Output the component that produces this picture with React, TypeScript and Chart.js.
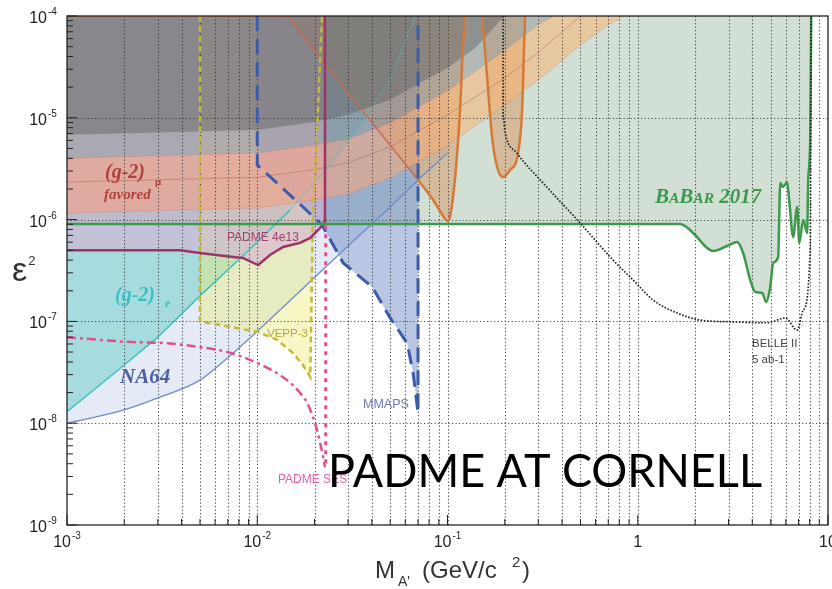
import React, { useEffect, useRef } from 'react';
import { Chart, registerables } from 'chart.js';

Chart.register(...registerables);

// ---------- axis ticks ----------
const xDecades = [1e-3, 1e-2, 1e-1, 1, 10];
const yDecades = [1e-9, 1e-8, 1e-7, 1e-6, 1e-5, 1e-4];
const minorMantissas = [2, 3, 4, 5, 6, 7, 8, 9];
const xTickLabels = [['10', '-3'], ['10', '-2'], ['10', '-1'], ['1', ''], ['10', '']];
const yTickLabels = [['10', '-9'], ['10', '-8'], ['10', '-7'], ['10', '-6'], ['10', '-5'], ['10', '-4']];

// ---------- NA64 ----------
const na64X = [1e-3, 2e-3, 3e-3, 5e-3, 7e-3, 1e-2, 0.02, 0.03, 0.05, 0.07, 0.1];
const na64Y = [1e-8, 1.35e-8, 1.77e-8, 2.65e-8, 4.4e-8, 8e-8, 2.7e-7, 5.5e-7, 1.33e-6, 2.45e-6, 4.5e-6];

// ---------- (g-2)e ----------
const g2eX = [1e-3, 2e-3, 3e-3, 5e-3, 8.6e-3, 0.01487, 0.0242, 0.0347, 0.0499, 0.0676];
const g2eY = [1.3e-8, 3.73e-8, 7.0e-8, 1.78e-7, 4.6e-7, 1.24e-6, 3.44e-6, 8.5e-6, 2.35e-5, 1e-4];

// ---------- BaBar 2017 ----------
const babarX = [1e-3, 1.67, 1.956, 2.317, 2.49, 2.95, 3.33, 3.58, 3.9, 4.14, 4.51, 4.73, 4.97, 5.15, 5.47, 5.61, 5.81, 6.1, 6.25, 6.56, 6.89, 7.06, 7.41, 7.77, 7.87, 8.06, 8.16];
const babarY = [9.06e-7, 9.06e-7, 7.39e-7, 5.26e-7, 4.92e-7, 5.5e-7, 6.03e-7, 4.7e-7, 2.55e-7, 1.95e-7, 1.9e-7, 1.55e-7, 2.18e-7, 3.75e-7, 4.3e-7, 2.29e-6, 2.09e-6, 2.34e-6, 1.56e-6, 6.75e-7, 1.33e-6, 5.9e-7, 9.9e-7, 7.4e-7, 2.45e-6, 6.05e-6, 1e-4];

// ---------- Belle II 5 ab-1 ----------
const belleX = [0.196, 0.196, 0.201, 0.232, 0.318, 0.498, 0.742, 0.946, 1.205, 1.61, 2.13, 3.17, 4.79, 5.96, 6.89, 7.41, 8.06, 8.16];
const belleY = [1e-4, 1.02e-5, 7.1e-6, 4.5e-6, 2.29e-6, 9.26e-7, 4.0e-7, 2.55e-7, 1.62e-7, 1.21e-7, 1.03e-7, 9.9e-8, 9.7e-8, 1.08e-7, 8.2e-8, 1.29e-7, 5.0e-7, 1e-4];

// ---------- VEPP-3 ----------
const veppX = [5e-3, 5e-3, 0.01, 0.0127, 0.0154, 0.0174, 0.019, 0.0196, 0.0206, 0.0219];
const veppY = [1e-4, 1e-7, 7.9e-8, 6.6e-8, 4.9e-8, 3.73e-8, 2.84e-8, 1.06e-6, 7.1e-6, 1e-4];

// ---------- MMAPS ----------
const mmapsX = [0.01, 0.01, 0.0174, 0.0219, 0.0283, 0.0402, 0.0497, 0.0614, 0.066, 0.07, 0.07];
const mmapsY = [1e-4, 3.44e-6, 1.33e-6, 8.85e-7, 3.75e-7, 2.18e-7, 1.1e-7, 6.1e-8, 3.1e-8, 1.26e-8, 1e-4];

// ---------- PADME 4e13 ----------
const padmeX = [1e-3, 3.93e-3, 5e-3, 7.47e-3, 8.4e-3, 0.0101, 0.01167, 0.01367, 0.0168, 0.019, 0.0214, 0.0227, 0.0227];
const padmeY = [5e-7, 5e-7, 4.7e-7, 4.3e-7, 4.2e-7, 3.58e-7, 4.49e-7, 5.38e-7, 5.9e-7, 6.6e-7, 8.3e-7, 9.5e-7, 1e-4];

// ---------- PADME SES ----------
const sesX = [1e-3, 2.07e-3, 3.36e-3, 5e-3, 6.94e-3, 0.01, 0.01434, 0.0168, 0.0183, 0.0206, 0.0222, 0.0227];
const sesY = [7.0e-8, 6.3e-8, 6.1e-8, 5.6e-8, 5.0e-8, 3.9e-8, 2.65e-8, 1.98e-8, 1.58e-8, 8.6e-9, 4.65e-9, 3.7e-9];
const sesVertX = [0.0229, 0.0229];
const sesVertY = [8.8e-7, 3.7e-9];

// ---------- orange peaks ----------
const peak1X = [0.0145, 0.0233, 0.0392, 0.07, 0.084, 0.0935, 0.1, 0.103, 0.1097, 0.1164, 0.1208, 0.124];
const peak1Y = [1e-4, 3.15e-5, 9.5e-6, 2.45e-6, 1.56e-6, 1.13e-6, 9.7e-7, 1.06e-6, 2.6e-6, 1.19e-5, 5.4e-5, 1e-4];
const peak2X = [0.152, 0.1615, 0.1715, 0.1823, 0.196, 0.2134, 0.235, 0.2466, 0.253, 0.256];
const peak2Y = [1e-4, 2.52e-5, 6.5e-6, 3.29e-6, 2.62e-6, 3.07e-6, 4.5e-6, 1.19e-5, 5.4e-5, 1e-4];

// ---------- (g-2)mu band ----------
const bandUpX = [1e-3, 0.01, 0.02, 0.03, 0.05, 0.07, 0.1, 0.2, 0.3, 0.36];
const bandUpY = [4.0e-6, 4.5e-6, 5.4e-6, 6.2e-6, 8.9e-6, 1.28e-5, 1.83e-5, 4.6e-5, 8.2e-5, 1e-4];
const bandLoX = [1e-3, 0.01, 0.02, 0.03, 0.05, 0.07, 0.1, 0.2, 0.3, 0.5, 0.7, 0.85];
const bandLoY = [1.16e-6, 1.3e-6, 1.56e-6, 1.78e-6, 2.56e-6, 3.7e-6, 5.3e-6, 1.34e-5, 2.35e-5, 5.2e-5, 8.2e-5, 1e-4];
const bandMidX = [1e-3, 0.01, 0.02, 0.03, 0.05, 0.07, 0.1, 0.2, 0.3, 0.5];
const bandMidY = [2.34e-6, 2.6e-6, 3.1e-6, 3.6e-6, 5.2e-6, 7.4e-6, 1.07e-5, 2.46e-5, 4.4e-5, 1e-4];

// ---------- dark grey region ----------
const greyX = [1e-3, 0.01, 0.02, 0.03, 0.05, 0.07, 0.1, 0.14, 0.19, 0.2];
const greyY = [6.8e-6, 7.6e-6, 9.1e-6, 1.07e-5, 1.5e-5, 2.15e-5, 3.1e-5, 4.85e-5, 9.1e-5, 1e-4];

// ---------- top edge ----------
const topX = [1e-3, 0.0145];
const topY = [1e-4, 1e-4];

const pts = (xs: number[], ys: number[]) => xs.map((x, i) => ({ x, y: ys[i] }));

function drawPow(ctx: CanvasRenderingContext2D, base: string, exp: string, x: number, y: number, align: string) {
  ctx.font = '16px "Liberation Sans"';
  const wb = ctx.measureText(base).width;
  ctx.font = '10px "Liberation Sans"';
  const we = exp ? ctx.measureText(exp).width + 1 : 0;
  const left = align === 'center' ? x - (wb + we) / 2 : x - wb;
  ctx.textAlign = 'left';
  ctx.textBaseline = 'alphabetic';
  ctx.font = '16px "Liberation Sans"';
  ctx.fillText(base, left, y);
  if (exp) {
    ctx.font = '10px "Liberation Sans"';
    ctx.fillText(exp, left + wb + 1, y - 8);
  }
}

export default function App() {
  const ref = useRef<HTMLCanvasElement>(null);

  useEffect(() => {
    const canvas = ref.current;
    if (!canvas) return;
    const datasets: any[] = [];
    const addFill = (xs: number[], ys: number[], color: any, fill: any, interp = 'default') => {
      datasets.push({
        data: pts(xs, ys), showLine: true, pointRadius: 0, borderWidth: 0,
        borderColor: 'rgba(0,0,0,0)', backgroundColor: color, fill, tension: 0,
        cubicInterpolationMode: interp,
      });
    };
    const addLine = (xs: number[], ys: number[], color: string, width: number, dash: number[] = [], interp = 'default') => {
      datasets.push({
        data: pts(xs, ys), showLine: true, pointRadius: 0, borderWidth: width,
        borderColor: color, backgroundColor: color, fill: false, tension: 0,
        borderDash: dash, cubicInterpolationMode: interp, borderCapStyle: 'butt',
      });
    };

    const bandColor = (c: any) => {
      const chart = c.chart;
      const a = chart.chartArea;
      if (!a || !chart.scales.x) return 'rgba(245,155,125,0.6)';
      const g = chart.ctx.createLinearGradient(a.left, 0, a.right, 0);
      const w = a.right - a.left;
      const o1 = (chart.scales.x.getPixelForValue(0.02) - a.left) / w;
      const o2 = (chart.scales.x.getPixelForValue(0.12) - a.left) / w;
      g.addColorStop(0, 'rgba(245,160,130,0.6)');
      g.addColorStop(Math.max(0, Math.min(1, o1)), 'rgba(245,160,130,0.58)');
      g.addColorStop(Math.max(0, Math.min(1, o2)), 'rgba(250,180,115,0.55)');
      g.addColorStop(1, 'rgba(250,185,120,0.55)');
      return g;
    };

    // fills, bottom -> top
    addFill(na64X, na64Y, 'rgba(205,216,238,0.55)', 'end', 'monotone');
    addFill(g2eX, g2eY, 'rgba(110,205,205,0.52)', 'end');
    addFill(babarX, babarY, 'rgba(135,170,145,0.38)', 'end', 'monotone');
    addFill(veppX, veppY, 'rgba(235,235,120,0.42)', 'end');
    addFill(mmapsX, mmapsY, 'rgba(100,130,195,0.45)', 'end');
    addFill(padmeX, padmeY, 'rgba(215,178,212,0.6)', 'end');
    addFill(peak1X, peak1Y, 'rgba(215,130,60,0.38)', 'end', 'monotone');
    addFill(peak2X, peak2Y, 'rgba(215,130,60,0.38)', 'end', 'monotone');
    addFill(bandUpX.concat(bandLoX.slice().reverse()), bandUpY.concat(bandLoY.slice().reverse()), bandColor, 'shape');
    addFill(bandUpX, bandUpY, 'rgba(150,150,150,0.5)', 'end');
    addFill(greyX, greyY, 'rgba(95,95,95,0.45)', 'end');

    // lines on top
    addLine(bandUpX, bandUpY, 'rgba(200,120,100,0.4)', 0.8);
    addLine(bandLoX, bandLoY, 'rgba(200,120,100,0.4)', 0.8);
    addLine(bandMidX, bandMidY, 'rgba(170,80,70,0.4)', 1);
    addLine(na64X, na64Y, '#6f8cc8', 1.3, [], 'monotone');
    addLine(g2eX.slice(0, 6), g2eY.slice(0, 6), '#40c0bd', 1.5);
    addLine(g2eX.slice(5), g2eY.slice(5), 'rgba(64,192,189,0.45)', 1.2);
    addLine(topX, topY, '#d6784c', 2.5);
    addLine(peak1X.slice(0, 4), peak1Y.slice(0, 4), '#c8684c', 1.4);
    addLine(peak1X.slice(3), peak1Y.slice(3), '#d47a38', 2.5, [], 'monotone');
    addLine(peak2X, peak2Y, '#d47a38', 2.5, [], 'monotone');
    addLine(veppX, veppY, '#c2b83a', 2.5, [6, 4]);
    addLine(padmeX, padmeY, '#9c3468', 2.5);
    addLine(mmapsX, mmapsY, '#3c5ca8', 3, [15, 8]);
    addLine(babarX, babarY, '#3d9a4a', 2.5, [], 'monotone');
    addLine(sesX, sesY, '#e0508f', 2.5, [9, 4, 3, 4], 'monotone');
    addLine(sesVertX, sesVertY, '#e0508f', 3, [4, 5]);
    addLine(belleX, belleY, '#222', 1.7, [1.6, 1.6], 'monotone');

    datasets.forEach((d, i) => { d.order = datasets.length - i; });

    const gridPlugin = {
      id: 'customGrid',
      beforeDatasetsDraw(chart: any) {
        const { ctx, chartArea: a, scales } = chart;
        ctx.save();
        ctx.strokeStyle = 'rgba(50,50,50,0.85)';
        ctx.lineWidth = 1.1;
        ctx.setLineDash([1.2, 2.3]);
        xDecades.forEach((d, i) => {
          const vals = [d].concat(i < xDecades.length - 1 ? minorMantissas.map(m => m * d) : []);
          vals.forEach(v => {
            const px = Math.round(scales.x.getPixelForValue(v)) + 0.5;
            if (px <= a.left + 1 || px >= a.right - 1) return;
            ctx.beginPath(); ctx.moveTo(px, a.top); ctx.lineTo(px, a.bottom); ctx.stroke();
          });
        });
        yDecades.forEach(v => {
          const py = Math.round(scales.y.getPixelForValue(v)) + 0.5;
          if (py <= a.top + 1 || py >= a.bottom - 1) return;
          ctx.beginPath(); ctx.moveTo(a.left, py); ctx.lineTo(a.right, py); ctx.stroke();
        });
        ctx.restore();
      },
    };

    const textPlugin = {
      id: 'customText',
      afterDraw(chart: any) {
        const { ctx, chartArea: a, scales } = chart;
        ctx.save();
        // frame
        ctx.setLineDash([]);
        ctx.strokeStyle = '#222';
        ctx.lineWidth = 1.3;
        ctx.strokeRect(a.left, a.top, a.right - a.left, a.bottom - a.top);
        // tick marks
        ctx.lineWidth = 1;
        xDecades.forEach((d, i) => {
          const px = scales.x.getPixelForValue(d);
          ctx.beginPath(); ctx.moveTo(px, a.bottom); ctx.lineTo(px, a.bottom - 10); ctx.stroke();
          if (i < xDecades.length - 1) {
            minorMantissas.forEach(m => {
              const p = scales.x.getPixelForValue(m * d);
              ctx.beginPath(); ctx.moveTo(p, a.bottom); ctx.lineTo(p, a.bottom - 6); ctx.stroke();
            });
          }
        });
        yDecades.forEach((d, i) => {
          const py = scales.y.getPixelForValue(d);
          ctx.beginPath(); ctx.moveTo(a.left, py); ctx.lineTo(a.left + 10, py); ctx.stroke();
          if (i < yDecades.length - 1) {
            minorMantissas.forEach(m => {
              const p = scales.y.getPixelForValue(m * d);
              ctx.beginPath(); ctx.moveTo(a.left, p); ctx.lineTo(a.left + 6, p); ctx.stroke();
            });
          }
        });
        // tick labels
        ctx.fillStyle = '#222';
        xDecades.forEach((d, i) => {
          const px = scales.x.getPixelForValue(d);
          drawPow(ctx, xTickLabels[i][0], xTickLabels[i][1], px, a.bottom + 22, 'center');
        });
        yDecades.forEach((d, i) => {
          const py = scales.y.getPixelForValue(d);
          drawPow(ctx, yTickLabels[i][0], yTickLabels[i][1], 47, py + 7, 'right');
        });
        // axis titles
        ctx.fillStyle = '#333';
        ctx.textAlign = 'left';
        ctx.font = '24px "Liberation Sans"';
        ctx.fillText('M', 375, 578);
        ctx.font = '14px "Liberation Sans"';
        ctx.fillText("A'", 398, 586);
        ctx.font = '24px "Liberation Sans"';
        ctx.fillText('(GeV/c', 422, 578);
        ctx.font = '15px "Liberation Sans"';
        ctx.fillText('2', 512, 567);
        ctx.font = '24px "Liberation Sans"';
        ctx.fillText(')', 522, 578);
        ctx.font = '34px "Liberation Sans"';
        ctx.fillText('\u03b5', 12, 281);
        const ew = ctx.measureText('\u03b5').width;
        ctx.font = '13px "Liberation Sans"';
        ctx.fillText('2', 12 + ew + 1, 265);

        // region labels
        ctx.fillStyle = '#b0403c';
        ctx.font = 'italic bold 20px "Liberation Serif"';
        ctx.fillText('(g-2)', 105, 178);
        ctx.font = 'bold 11px "Liberation Serif"';
        ctx.fillText('\u03bc', 155, 185);
        ctx.font = 'italic bold 15px "Liberation Serif"';
        ctx.fillText('favored', 104, 199);

        ctx.fillStyle = '#3cbfbf';
        ctx.font = 'italic bold 20px "Liberation Serif"';
        ctx.fillText('(g-2)', 115, 301);
        ctx.font = 'italic bold 12px "Liberation Serif"';
        ctx.fillText('e', 165, 307);

        ctx.fillStyle = '#4d5f9e';
        ctx.font = 'italic bold 21px "Liberation Serif"';
        ctx.fillText('NA64', 120, 383);

        ctx.fillStyle = '#a3406e';
        ctx.font = '12px "Liberation Sans"';
        ctx.fillText('PADME 4e13', 227, 241);

        ctx.fillStyle = '#b4a836';
        ctx.font = '11.5px "Liberation Sans"';
        ctx.fillText('VEPP-3', 267, 337);

        ctx.fillStyle = '#6a78b5';
        ctx.font = '12.5px "Liberation Sans"';
        ctx.fillText('MMAPS', 363, 408);

        ctx.fillStyle = '#e060a5';
        ctx.font = '12px "Liberation Sans"';
        ctx.fillText('PADME SES', 278, 483);

        ctx.fillStyle = '#444';
        ctx.font = '11.5px "Liberation Sans"';
        ctx.fillText('BELLE II', 752, 347);
        ctx.fillText('5 ab-1', 752, 363);

        // BaBar small caps
        ctx.fillStyle = '#3d9a4a';
        const parts: [string, number][] = [['B', 21], ['A', 15.5], ['B', 21], ['AR', 15.5], [' 2017', 21]];
        let bx = 655;
        parts.forEach(([t, s]) => {
          ctx.font = `italic bold ${s}px "Liberation Serif"`;
          ctx.fillText(t, bx, 203);
          bx += ctx.measureText(t).width;
        });

        // overlay title
        ctx.fillStyle = '#000';
        ctx.font = '47px Lato';
        ctx.fillText('PADME AT CORNELL', 328, 487, 434);
        ctx.restore();
      },
    };

    const chart = new Chart(canvas, {
      type: 'scatter',
      data: { datasets },
      options: {
        responsive: false,
        animation: false,
        devicePixelRatio: 1,
        events: [],
        layout: { padding: { left: 67, right: 4, top: 16, bottom: 64 } },
        plugins: {
          legend: { display: false },
          tooltip: { enabled: false },
          filler: { drawTime: 'beforeDatasetsDraw', propagate: false },
        },
        scales: {
          x: {
            type: 'logarithmic', min: 1e-3, max: 10,
            grid: { display: false }, border: { display: false }, ticks: { display: false },
            afterFit: (s: any) => { s.height = 0; },
          },
          y: {
            type: 'logarithmic', min: 1e-9, max: 1e-4,
            grid: { display: false }, border: { display: false }, ticks: { display: false },
            afterFit: (s: any) => { s.width = 0; },
          },
        },
      } as any,
      plugins: [gridPlugin, textPlugin],
    });
    return () => chart.destroy();
  }, []);

  return (
    <div style={{ position: 'fixed', left: 0, top: 0, width: 832, height: 589, background: '#fff' }}>
      <canvas ref={ref} width={832} height={589} style={{ display: 'block' }} />
    </div>
  );
}
